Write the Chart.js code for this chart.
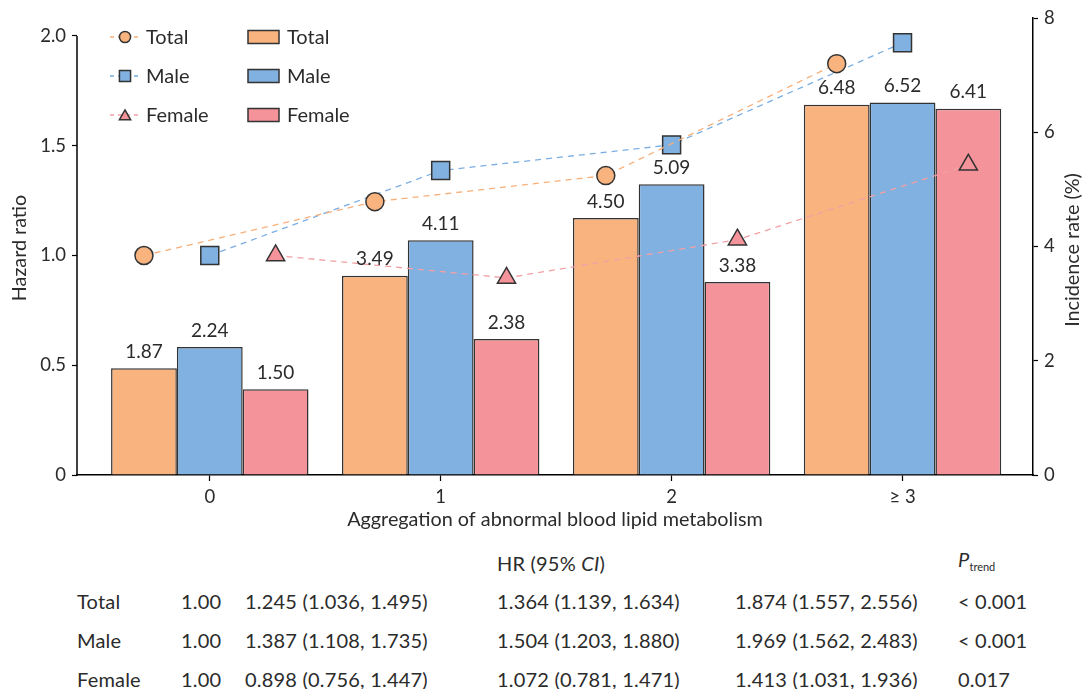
<!DOCTYPE html>
<html>
<head>
<meta charset="utf-8">
<script src="https://cdn.jsdelivr.net/npm/chart.js@4.4.1/dist/chart.umd.min.js"></script>
<style>
  body { margin: 0; background: #fff; font-family: Lato, sans-serif; color: #2b2b2b; }
  #wrap { position: relative; width: 1083px; height: 689px; }
  canvas { position: absolute; left: 0; top: 0; }
  .t { position: absolute; font-size: 20px; letter-spacing: 0.2px; white-space: nowrap; line-height: 22px; transform: translateY(-50%); }
  sub { font-size: 11px; vertical-align: -4px; letter-spacing: 0; }
</style>
</head>
<body>
<div id="wrap">
  <canvas id="c" width="1083" height="540"></canvas>
  <div id="tbl"></div>
</div>
<script>
// categories + ticks
const categories = ['0', '1', '2', '≥ 3'];
const xTicks = [0, 1, 2, 3];
const hrTicks = [0, 0.5, 1.0, 1.5, 2.0];
const incTicks = [0, 2, 4, 6, 8];

// incidence rate (%), bars
const incTotal = [1.87, 3.49, 4.50, 6.48];
const incMale = [2.24, 4.11, 5.09, 6.52];
const incFemale = [1.50, 2.38, 3.38, 6.41];

// hazard ratios, markers
const hrTotal = [1.00, 1.245, 1.364, 1.874];
const hrMale = [1.00, 1.387, 1.504, 1.969];
const hrFemale = [1.00, 0.898, 1.072, 1.413];

// 95% CI for groups 1..3
const ciTotal = [[1.036, 1.495], [1.139, 1.634], [1.557, 2.556]];
const ciMale = [[1.108, 1.735], [1.203, 1.880], [1.562, 2.483]];
const ciFemale = [[0.756, 1.447], [0.781, 1.471], [1.031, 1.936]];
const pTrend = ['< 0.001', '< 0.001', '0.017'];
const groups = ['Total', 'Male', 'Female'];

const orange = '#F8B37F', blue = '#80B1E0', pink = '#F4939A';
const ink = '#2b2b2b';
const FONT = 'Lato, sans-serif';
const markOff = [-0.285, 0, 0.285];

const pts = (arr, k) => arr.map((v, i) => ({ x: xTicks[i] + markOff[k], y: v }));
const bars = arr => arr.map((v, i) => ({ x: xTicks[i], y: v }));

function mark(ctx, style, x, y, r, fill) {
  ctx.beginPath();
  if (style === 'circle') ctx.arc(x, y, r, 0, Math.PI * 2);
  else if (style === 'rect') { const s = r * Math.SQRT1_2; ctx.rect(x - s, y - s, 2 * s, 2 * s); }
  else { ctx.moveTo(x, y - r); ctx.lineTo(x + r * 0.866, y + r / 2); ctx.lineTo(x - r * 0.866, y + r / 2); ctx.closePath(); }
  ctx.fillStyle = fill; ctx.fill();
  ctx.lineWidth = 1.5; ctx.strokeStyle = '#333'; ctx.stroke();
}

const extras = {
  id: 'extras',
  afterDraw(chart) {
    const ctx = chart.ctx;
    const y = chart.scales.y, a = chart.chartArea;
    ctx.save();
    // left spine stops at 2.0
    ctx.strokeStyle = '#000'; ctx.lineWidth = 1.5;
    ctx.beginPath();
    ctx.moveTo(a.left, y.getPixelForValue(hrTicks[hrTicks.length - 1]));
    ctx.lineTo(a.left, a.bottom + 0.75);
    ctx.stroke();

    // bar value labels
    ctx.fillStyle = ink; ctx.font = '19px ' + FONT;
    ctx.textAlign = 'center'; ctx.textBaseline = 'bottom';
    chart.data.datasets.forEach((ds, di) => {
      if (ds.type !== 'bar') return;
      chart.getDatasetMeta(di).data.forEach((el, i) => {
        ctx.fillText(ds.data[i].y.toFixed(2), el.x, el.y - 7);
      });
    });

    // axis titles
    ctx.font = '19.8px ' + FONT; ctx.textBaseline = 'middle';
    ctx.fillText('Aggregation of abnormal blood lipid metabolism', (a.left + a.right) / 2, 520);
    ctx.save(); ctx.translate(20, 248); ctx.rotate(-Math.PI / 2);
    ctx.fillText('Hazard ratio', 0, 0); ctx.restore();
    ctx.save(); ctx.translate(1073, 250); ctx.rotate(-Math.PI / 2);
    ctx.fillText('Incidence rate (%)', 0, 0); ctx.restore();

    // legend: markers column + bars column
    const rows = [37, 76, 115];
    ctx.textAlign = 'left'; ctx.font = '20px ' + FONT;
    const lines = chart.data.datasets.filter(d => d.type === 'line');
    const bs = chart.data.datasets.filter(d => d.type === 'bar');
    lines.forEach((d, i) => {
      const ry = rows[i];
      ctx.save();
      ctx.strokeStyle = d.borderColor; ctx.lineWidth = 1.3; ctx.setLineDash([4, 4]);
      ctx.beginPath(); ctx.moveTo(110, ry); ctx.lineTo(140, ry); ctx.stroke();
      ctx.restore();
      mark(ctx, d.pointStyle, 125, ry + (d.pointStyle === 'triangle' ? 1.5 : 0), d.pointRadius * 0.62, d.pointBackgroundColor);
      ctx.fillStyle = ink; ctx.fillText(d.label, 146, ry + 1);
    });
    bs.forEach((d, i) => {
      const ry = rows[i];
      ctx.fillStyle = d.backgroundColor; ctx.fillRect(248, ry - 6.5, 31, 13);
      ctx.strokeStyle = '#333'; ctx.lineWidth = 1.5; ctx.strokeRect(248, ry - 6.5, 31, 13);
      ctx.fillStyle = ink; ctx.fillText(d.label, 287, ry + 1);
    });
    ctx.restore();
  }
};

const tickFont = { family: FONT, size: 18.5 };

new Chart(document.getElementById('c'), {
  data: {
    datasets: [
      { type: 'bar', label: 'Total', data: bars(incTotal), yAxisID: 'y2', backgroundColor: orange, borderColor: '#333', borderWidth: 1.5, order: 1 },
      { type: 'bar', label: 'Male', data: bars(incMale), yAxisID: 'y2', backgroundColor: blue, borderColor: '#333', borderWidth: 1.5, order: 1 },
      { type: 'bar', label: 'Female', data: bars(incFemale), yAxisID: 'y2', backgroundColor: pink, borderColor: '#333', borderWidth: 1.5, order: 1 },
      { type: 'line', label: 'Total', data: pts(hrTotal, 0), yAxisID: 'y', borderColor: '#F7AF7A', borderWidth: 1.3, borderDash: [6, 5],
        pointStyle: 'circle', pointRadius: 9, pointBackgroundColor: orange, pointBorderColor: '#333', pointBorderWidth: 1.5, order: 0 },
      { type: 'line', label: 'Male', data: pts(hrMale, 1), yAxisID: 'y', borderColor: '#7AAEE2', borderWidth: 1.3, borderDash: [6, 5],
        pointStyle: 'rect', pointRadius: 12.7, pointBackgroundColor: blue, pointBorderColor: '#333', pointBorderWidth: 1.5, order: 0 },
      { type: 'line', label: 'Female', data: pts(hrFemale, 2), yAxisID: 'y', borderColor: '#F3A0A5', borderWidth: 1.3, borderDash: [6, 5],
        pointStyle: 'triangle', pointRadius: 10.5, pointBackgroundColor: pink, pointBorderColor: '#333', pointBorderWidth: 1.5, order: 0 },
    ],
  },
  options: {
    responsive: false, animation: false,
    layout: { padding: { top: 18, left: 0, right: 0, bottom: 0 } },
    datasets: { bar: { categoryPercentage: 0.855, barPercentage: 1, grouped: true } },
    plugins: { legend: { display: false }, tooltip: { enabled: false } },
    scales: {
      x: {
        type: 'linear', min: -0.575, max: 3.565, offset: false,
        afterBuildTicks: s => { s.ticks = xTicks.map(v => ({ value: v })); },
        afterFit: s => { s.height = 65; },
        ticks: { callback: v => categories[v], font: tickFont, color: ink, padding: 5, maxRotation: 0, autoSkip: false },
        grid: { display: true, offset: false, drawOnChartArea: false, tickLength: 6, tickColor: '#000', tickWidth: 1.2 },
        border: { display: true, color: '#000', width: 1.5 },
      },
      y: {
        position: 'left', min: 0, max: 2.082,
        afterBuildTicks: s => { s.ticks = hrTicks.map(v => ({ value: v })); },
        afterFit: s => { s.width = 77; },
        ticks: { callback: v => (v === 0 ? '0' : v.toFixed(1)), font: tickFont, color: ink, padding: 6 },
        grid: { display: true, drawOnChartArea: false, tickLength: 5, tickColor: '#000', tickWidth: 1.2 },
        border: { display: false },
      },
      y2: {
        position: 'right', min: 0, max: 8,
        afterBuildTicks: s => { s.ticks = incTicks.map(v => ({ value: v })); },
        afterFit: s => { s.width = 50; },
        ticks: { callback: v => String(v), font: tickFont, color: ink, padding: 6 },
        grid: { display: true, drawOnChartArea: false, tickLength: 5, tickColor: '#000', tickWidth: 1.2 },
        border: { display: true, color: '#000', width: 1.5 },
      },
    },
  },
  plugins: [extras],
});

// HR table below the chart
const tbl = document.getElementById('tbl');
const colX = [77, 181, 245, 497, 735, 958];
const rowY = [601, 640, 679];
function put(html, x, y) {
  const d = document.createElement('div');
  d.className = 't'; d.style.left = x + 'px'; d.style.top = y + 'px';
  d.innerHTML = html; tbl.appendChild(d);
}
put('HR (95% <i>CI</i>)', 497, 563);
put('<i>P</i><sub>trend</sub>', 958, 563);
const hrs = [hrTotal, hrMale, hrFemale];
const cis = [ciTotal, ciMale, ciFemale];
groups.forEach((g, r) => {
  put(g, colX[0], rowY[r]);
  put(hrs[r][0].toFixed(2), colX[1], rowY[r]);
  for (let k = 1; k < 4; k++) {
    const c = cis[r][k - 1];
    put(hrs[r][k].toFixed(3) + ' (' + c[0].toFixed(3) + ', ' + c[1].toFixed(3) + ')', colX[k + 1], rowY[r]);
  }
  put(pTrend[r], colX[5], rowY[r]);
});
</script>
</body>
</html>
